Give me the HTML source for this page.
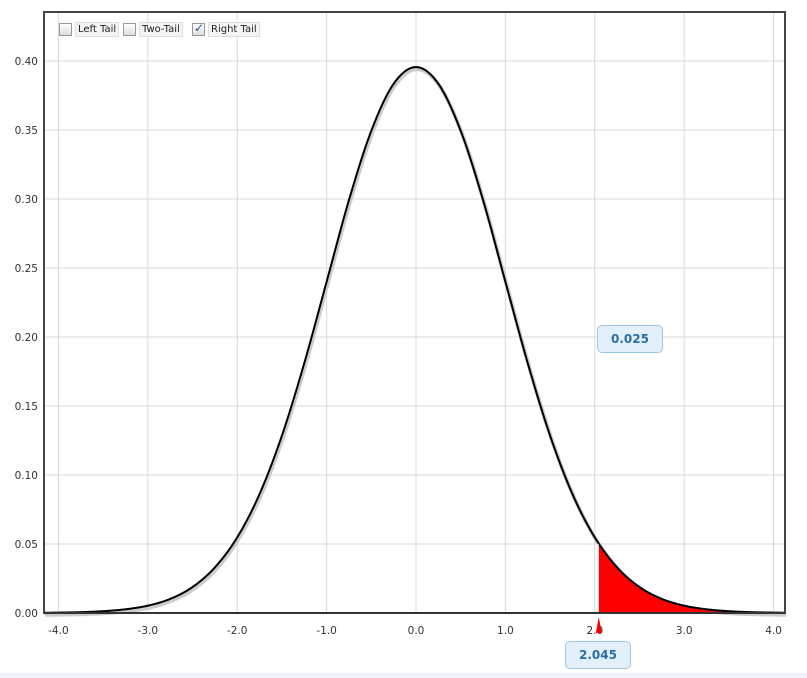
<!DOCTYPE html>
<html><head><meta charset="utf-8"><style>
body{margin:0;background:#fff;font-family:"DejaVu Sans","Liberation Sans",sans-serif;}
#wrap{position:relative;width:807px;height:678px;overflow:hidden;}
.cb{position:absolute;top:22px;height:14px;font-size:10px;display:flex;align-items:center;}
.box{width:11px;height:11px;border:1px solid #999;background:linear-gradient(#fff,#ddd);margin-right:3px;position:relative;}
.lab{border:1px solid #ddd;background:#f4f4f4;padding:0 2px;line-height:13px;color:#222;}
.tip{position:absolute;width:64px;height:26px;border:1px solid #9cc7e6;border-radius:5px;background:#e3f0fa;color:#2a6fa6;font-weight:bold;font-size:12px;text-align:center;line-height:26px;}
</style></head><body>
<div id="wrap">
<svg id="svg" width="807" height="678" style="position:absolute;left:0;top:0"></svg>
<div class="cb" style="left:59px"><span class="box"></span><span class="lab">Left Tail</span></div>
<div class="cb" style="left:123px"><span class="box"></span><span class="lab">Two-Tail</span></div>
<div class="cb" style="left:192px"><span class="box"><span style="position:absolute;left:1px;top:-3px;color:#2a4fa0;font-size:12px;font-weight:bold">✓</span></span><span class="lab">Right Tail</span></div>
<div class="tip" style="left:597px;top:325px">0.025</div>
<div class="tip" style="left:565px;top:641px">2.045</div>
</div>
<script>
const xTicks=[-4,-3,-2,-1,0,1,2,3,4];
const yTicks=[0,0.05,0.10,0.15,0.20,0.25,0.30,0.35,0.40];
const curveX=[0,0.25,0.5,0.75,1,1.25,1.5,1.75,2,2.25,2.5,2.75,3,3.25,3.5,3.75,4,4.25];
const curveY=[0.3956,0.3835,0.3494,0.2992,0.2400,0.1810,0.1285,0.0862,0.0548,0.0330,0.0188,0.0102,0.0053,0.0027,0.0013,0.0006,0.0003,0.0001];
const critical=[2.045];
const NS='http://www.w3.org/2000/svg';
const svg=document.getElementById('svg');
const L=44,R=785,T=12,B=613;
const sx=v=>416+v*89.4;
const sy=v=>B-v*(552/0.4);
function mk(t,a){const e=document.createElementNS(NS,t);for(const k in a)e.setAttribute(k,a[k]);svg.appendChild(e);return e;}
const bg=mk('rect',{x:0,y:673,width:807,height:5,fill:'#eef4f9'});


xTicks.forEach(v=>{const g=mk('line',{x1:sx(v),x2:sx(v),y1:T,y2:B,stroke:'#d8d8d8'});


const t=mk('text',{x:sx(v),y:634,'text-anchor':'middle','font-size':10.5,fill:'#333'});t.textContent=v.toFixed(1);

});
yTicks.forEach(v=>{const g=mk('line',{x1:L,x2:R,y1:sy(v),y2:sy(v),stroke:'#d8d8d8'});


const t=mk('text',{x:38,y:sy(v)+4,'text-anchor':'end','font-size':10.5,fill:'#333'});t.textContent=v.toFixed(2);

});
let pts=[];for(let i=curveX.length-1;i>0;i--)pts.push([-curveX[i],curveY[i]]);for(let i=0;i<curveX.length;i++)pts.push([curveX[i],curveY[i]]);
function val(x){for(let i=0;i<pts.length-1;i++){if(x>=pts[i][0]&&x<=pts[i+1][0]){const p0=pts[Math.max(i-1,0)],p1=pts[i],p2=pts[i+1],p3=pts[Math.min(i+2,pts.length-1)];const t=(x-p1[0])/(p2[0]-p1[0]);const t2=t*t,t3=t2*t;return Math.max(0,0.5*((2*p1[1])+(-p0[1]+p2[1])*t+(2*p0[1]-5*p1[1]+4*p2[1]-p3[1])*t2+(-p0[1]+3*p1[1]-3*p2[1]+p3[1])*t3));}}return 0;}
const curvePts=[];
for(let px=L;px<=R;px++){curvePts.push([px,sy(val((px-416)/89.4))]);}
const d='M'+curvePts.map(p=>p[0]+','+p[1].toFixed(2)).join('L');
const cx=sx(critical[0]);
const tailPts=[[cx,B],[cx,sy(val(critical[0]))]];
curvePts.forEach(p=>{if(p[0]>cx)tailPts.push(p);});
tailPts.push([R,B]);
const fd='M'+tailPts.map(p=>p[0].toFixed(2)+','+p[1].toFixed(2)).join('L')+'Z';
const sh=mk('path',{d:d,fill:'none',stroke:'#ccc','stroke-width':4,transform:'translate(1,2)'});


const f=mk('path',{d:fd,fill:'#ff0000'});


const c=mk('path',{d:d,fill:'none',stroke:'#000','stroke-width':2});


const cl=mk('line',{x1:cx-1,x2:cx-1,y1:B,y2:sy(val(critical[0])),stroke:'#fff','stroke-width':1.5});


const fr=mk('rect',{x:L,y:T,width:R-L,height:B-T,fill:'none',stroke:'#444','stroke-width':2});


const ax=mk('line',{x1:L,x2:R,y1:B,y2:B,stroke:'#333','stroke-width':2});


const m=mk('path',{d:`M${cx-3},${B+20}L${cx},${B+4}L${cx+3},${B+20}Z`,fill:'#ff0000'});


</script>
</body></html>
